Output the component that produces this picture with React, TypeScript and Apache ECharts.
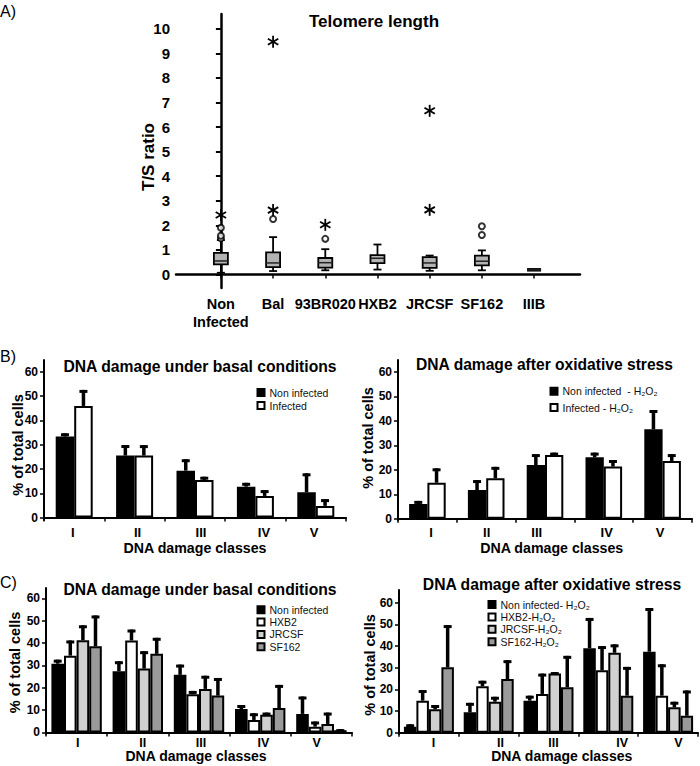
import React, { useEffect, useRef } from 'react';
import * as echarts from 'echarts';

const FONT = "'Liberation Sans', Arial, Helvetica, sans-serif";

// ---------- Panel A: telomere length (box plots) ----------
const telomereCategories = ['Non\nInfected', 'Bal', '93BR020', 'HXB2', 'JRCSF', 'SF162', 'IIIB'];
const telomereLowerWhisker = [0.07, 0.14, 0.17, 0.2, 0.15, 0.17, 0.19];
const telomereQ1 = [0.41, 0.3, 0.28, 0.46, 0.27, 0.37, 0.19];
const telomereMedian = [0.55, 0.47, 0.48, 0.66, 0.47, 0.54, 0.19];
const telomereQ3 = [0.88, 0.9, 0.67, 0.79, 0.71, 0.77, 0.19];
const telomereUpperWhisker = [1.4, 1.52, 1.03, 1.22, 0.77, 0.98, 0.19];
const telomereOutliers = [[0, 1.47], [0, 1.58], [0, 1.9], [1, 2.26], [2, 1.45], [5, 1.61], [5, 1.96]];
const telomereExtremes = [[0, 2.42], [1, 2.62], [1, 9.47], [2, 2.02], [4, 2.63], [4, 6.66]];
const telomereTicks = [0, 1, 2, 3, 4, 5, 6, 7, 8, 9, 10];
const telomereCatIdx = [0, 1, 2, 3, 4, 5, 6];

// ---------- Panels B / C: DNA damage classes ----------
const damageClasses = ['I', 'II', 'III', 'IV', 'V'];
const percentTicks = [0, 10, 20, 30, 40, 50, 60];

// B left: basal conditions
const bBasalNames = ['Non infected', 'Infected'];
const bBasalNonInfected = [33.3, 25.5, 19.3, 12.7, 10.4];
const bBasalNonInfectedErr = [1.4, 4.3, 4.7, 1.6, 7.8];
const bBasalInfected = [45.9, 25.5, 15.5, 8.9, 4.8];
const bBasalInfectedErr = [6.6, 4.3, 1.3, 2.4, 2.8];

// B right: oxidative stress
const bOxNames = ['Non infected  - H₂O₂', 'Infected - H₂O₂'];
const bOxNonInfected = [6.0, 11.7, 21.9, 25.1, 36.5];
const bOxNonInfectedErr = [1.3, 4.1, 4.5, 1.9, 7.9];
const bOxInfected = [14.7, 16.5, 26.0, 21.3, 23.6];
const bOxInfectedErr = [5.9, 4.7, 1.0, 2.7, 2.8];

// C left: basal conditions per strain
const cBasalNames = ['Non infected', 'HXB2', 'JRCSF', 'SF162'];
const cBasalNonInfected = [30.8, 27.4, 25.8, 10.5, 8.3];
const cBasalNonInfectedErr = [1.8, 4.5, 4.6, 1.8, 7.8];
const cBasalHXB2 = [34.4, 41.2, 17.1, 5.6, 2.6];
const cBasalHXB2Err = [6.8, 4.9, 1.5, 3.0, 2.3];
const cBasalJRCSF = [41.3, 28.6, 19.5, 7.9, 3.8];
const cBasalJRCSFErr = [6.7, 7.8, 5.9, 1.0, 5.1];
const cBasalSF162 = [38.6, 35.2, 16.5, 10.9, 1.0];
const cBasalSF162Err = [13.8, 7.2, 7.9, 10.4, 0.5];

// C right: oxidative stress per strain
const cOxNames = ['Non infected- H₂O₂', 'HXB2-H₂O₂', 'JRCSF-H₂O₂', 'SF162-H₂O₂'];
const cOxNonInfected = [2.8, 9.4, 14.8, 39.0, 37.4];
const cOxNonInfectedErr = [1.1, 4.4, 2.3, 14.0, 20.2];
const cOxHXB2 = [14.8, 21.5, 17.9, 28.8, 17.1];
const cOxHXB2Err = [4.9, 2.5, 9.4, 11.2, 14.5];
const cOxJRCSF = [10.8, 14.3, 27.3, 36.9, 11.7];
const cOxJRCSFErr = [2.0, 2.3, 0.7, 3.9, 2.6];
const cOxSF162 = [30.2, 24.8, 21.0, 17.1, 7.8];
const cOxSF162Err = [19.5, 8.7, 14.5, 13.3, 11.7];

const twoColors = ['#000000', '#ffffff'];
const fourColors = ['#000000', '#ffffff', '#d0d0d0', '#9a9a9a'];

// horizontal nudges (px) of the hand-placed class labels in each panel (layout only)
const labelShiftBL = [-1.5, 3, 6, 8.6, -1.8];
const labelShiftBR = [3.6, 0.5, -8.3, 2.9, -2.6];
const labelShiftCL = [1.1, 4.9, 2, 3.1, -4.7];
const labelShiftCR = [4.6, 11.8, 5, 13.9, 10.4];

function barPanel(g: number, names: string[], values: number[][], errs: number[][], colors: string[], bw: number) {
  const out: any[] = names.map((name, s) => ({
    type: 'bar',
    name,
    xAxisIndex: g,
    yAxisIndex: g,
    data: values[s],
    barWidth: bw,
    barGap: '0%',
    z: 2,
    itemStyle: { color: colors[s], borderColor: '#000', borderWidth: 2 },
  }));
  out.push({
    type: 'custom',
    xAxisIndex: g,
    yAxisIndex: g,
    z: 5,
    silent: true,
    data: values.flatMap((vals, s) => vals.map((v, c) => [c, v, v + errs[s][c], s])),
    encode: { x: 0, y: [1, 2] },
    renderItem: (_p: any, api: any) => {
      const c = api.value(0);
      const s = api.value(3);
      const base = api.coord([c, api.value(1)]);
      const top = api.coord([c, api.value(2)]);
      const x = base[0] + (s - (values.length - 1) / 2) * bw;
      return {
        type: 'group',
        children: [
          { type: 'rect', shape: { x: x - 1.75, y: top[1], width: 3.5, height: base[1] - top[1] }, style: { fill: '#000' } },
          { type: 'rect', shape: { x: x - 4, y: top[1], width: 8, height: 3 }, style: { fill: '#000' } },
        ],
      };
    },
  });
  return out;
}

function catAxis(g: number, shifts: number[], size: number, margin: number, lh: number) {
  const rich: any = {};
  shifts.forEach((d, i) => {
    rich['c' + i] = {
      fontWeight: 'bold',
      fontSize: size,
      lineHeight: lh,
      fontFamily: FONT,
      color: '#000',
      padding: d >= 0 ? [0, 0, 0, 2 * d] : [0, -2 * d, 0, 0],
    };
  });
  return {
    type: 'category',
    gridIndex: g,
    data: damageClasses,
    axisLine: { lineStyle: { color: '#000', width: 2 } },
    axisTick: { show: true, length: 4, lineStyle: { color: '#000', width: 1.5 } },
    axisLabel: {
      color: '#000',
      fontWeight: 'bold',
      fontSize: size,
      lineHeight: lh,
      fontFamily: FONT,
      margin,
      formatter: (v: string, i: number) => `{c${i}|${v}}`,
      rich,
    },
    splitLine: { show: false },
  };
}

function pctAxis(g: number, min: number, max: number) {
  return {
    type: 'value',
    gridIndex: g,
    min,
    max,
    axisLine: { show: true, lineStyle: { color: '#000', width: 2 } },
    axisTick: { show: true, length: 4, customValues: percentTicks, lineStyle: { color: '#000', width: 1.5 } },
    axisLabel: { color: '#000', fontWeight: 'bold', fontSize: 12, fontFamily: FONT, margin: 6, customValues: percentTicks },
    splitLine: { show: false },
  };
}

function legendOf(names: string[], left: number, top: number, gap: number) {
  return {
    orient: 'vertical',
    left,
    top,
    padding: 0,
    itemWidth: 7,
    itemHeight: 7,
    itemGap: gap,
    icon: 'rect',
    selectedMode: false,
    data: names,
    textStyle: { fontSize: 10.5, fontFamily: FONT, color: '#111', lineHeight: 10 },
  };
}

function txt(text: string, x: number, y: number, size: number, bold: boolean, align = 'center', rotate = 0) {
  return {
    type: 'text',
    x,
    y,
    rotation: rotate,
    style: {
      text,
      fontSize: size,
      fontWeight: bold ? 'bold' : 'normal',
      fontFamily: FONT,
      fill: '#000',
      align,
      verticalAlign: 'middle',
    },
  };
}

export default function App() {
  const ref = useRef<HTMLDivElement>(null);
  useEffect(() => {
    if (!ref.current) return;
    const chart = echarts.init(ref.current, null, { renderer: 'svg' });
    const boxData = telomereCatIdx.map((i) => [
      i,
      telomereLowerWhisker[i],
      telomereQ1[i],
      telomereMedian[i],
      telomereQ3[i],
      telomereUpperWhisker[i],
    ]);
    const option: any = {
      animation: false,
      backgroundColor: '#fff',
      grid: [
        { left: 176, top: 14, width: 404, height: 274, outerBoundsMode: 'none' },
        { left: 44, top: 360, width: 302, height: 160, outerBoundsMode: 'none' },
        { left: 398, top: 360, width: 294, height: 160, outerBoundsMode: 'none' },
        { left: 46, top: 588, width: 306, height: 146, outerBoundsMode: 'none' },
        { left: 399, top: 590, width: 299, height: 144, outerBoundsMode: 'none' },
      ],
      xAxis: [
        {
          type: 'value',
          gridIndex: 0,
          min: -0.86,
          max: 6.88,
          axisLine: { show: true, lineStyle: { color: '#000', width: 2.5 } },
          axisTick: { show: true, length: 4, customValues: telomereCatIdx, lineStyle: { color: '#000', width: 1.5 } },
          axisLabel: {
            customValues: telomereCatIdx,
            formatter: (v: number) => telomereCategories[Math.round(v)] ?? '',
            color: '#000',
            fontWeight: 'bold',
            fontSize: 14.5,
            lineHeight: 18,
            fontFamily: FONT,
            margin: 7,
          },
          splitLine: { show: false },
        },
        catAxis(1, labelShiftBL, 13, 5, 15),
        catAxis(2, labelShiftBR, 13, 5, 15),
        catAxis(3, labelShiftCL, 12.5, 3, 11),
        catAxis(4, labelShiftCR, 12.5, 3, 11),
      ],
      yAxis: [
        {
          type: 'value',
          gridIndex: 0,
          min: -0.55,
          max: 10.6,
          axisLine: { show: true, lineStyle: { color: '#000', width: 2.5 } },
          axisTick: { show: true, length: 5, customValues: telomereTicks, lineStyle: { color: '#000', width: 2 } },
          axisLabel: {
            customValues: telomereTicks,
            color: '#000',
            fontWeight: 'bold',
            fontSize: 15,
            fontFamily: FONT,
            margin: 6,
          },
          splitLine: { show: false },
        },
        pctAxis(1, -1, 64.8),
        pctAxis(2, -0.5, 64.8),
        pctAxis(3, -0.7, 64.7),
        pctAxis(4, -0.6, 65.9),
      ],
      legend: [
        legendOf(bBasalNames, 256.5, 387, 2),
        legendOf(bOxNames, 549.5, 385.7, 5.3),
        legendOf(cBasalNames, 256.5, 604.3, 1.3),
        legendOf(cOxNames, 487.5, 599, 1.4),
      ],
      series: [
        {
          type: 'custom',
          name: 'T/S ratio',
          xAxisIndex: 0,
          yAxisIndex: 0,
          data: boxData,
          encode: { x: 0, y: [1, 2, 3, 4, 5] },
          renderItem: (_p: any, api: any) => {
            const i = api.value(0);
            const lo = api.coord([i, api.value(1)]);
            const q1 = api.coord([i, api.value(2)]);
            const md = api.coord([i, api.value(3)]);
            const q3 = api.coord([i, api.value(4)]);
            const hi = api.coord([i, api.value(5)]);
            const x = lo[0];
            const hw = 7;
            const cw = 4;
            const st = { stroke: '#000', lineWidth: 1.8 };
            const flat = Math.abs(q1[1] - q3[1]) < 0.5;
            return {
              type: 'group',
              children: [
                { type: 'line', shape: { x1: x, y1: hi[1], x2: x, y2: q3[1] }, style: st },
                { type: 'line', shape: { x1: x, y1: q1[1], x2: x, y2: lo[1] }, style: st },
                { type: 'line', shape: { x1: x - cw, y1: hi[1], x2: x + cw, y2: hi[1] }, style: st },
                { type: 'line', shape: { x1: x - cw, y1: lo[1], x2: x + cw, y2: lo[1] }, style: st },
                flat
                  ? { type: 'line', shape: { x1: x - hw, y1: md[1], x2: x + hw, y2: md[1] }, style: { stroke: '#000', lineWidth: 3.5 } }
                  : {
                      type: 'rect',
                      shape: { x: x - hw, y: q3[1], width: 2 * hw, height: q1[1] - q3[1] },
                      style: { fill: '#b3b3b3', stroke: '#000', lineWidth: 1.8 },
                    },
                { type: 'line', shape: { x1: x - hw, y1: md[1], x2: x + hw, y2: md[1] }, style: { stroke: '#222', lineWidth: 1.5 } },
              ],
            };
          },
        },
        {
          type: 'scatter',
          name: 'Outliers',
          xAxisIndex: 0,
          yAxisIndex: 0,
          data: telomereOutliers,
          symbol: 'emptyCircle',
          symbolSize: 6,
          itemStyle: { color: '#000', borderColor: '#000', borderWidth: 1.5 },
        },
        {
          type: 'custom',
          name: 'Extremes',
          xAxisIndex: 0,
          yAxisIndex: 0,
          data: telomereExtremes,
          encode: { x: 0, y: 1 },
          renderItem: (_p: any, api: any) => {
            const p = api.coord([api.value(0), api.value(1)]);
            const r = 6;
            const st = { stroke: '#000', lineWidth: 1.8 };
            const arms = [90, 30, 150].map((deg) => {
              const a = (deg * Math.PI) / 180;
              const dx = r * Math.cos(a);
              const dy = r * Math.sin(a);
              return { type: 'line', shape: { x1: p[0] - dx, y1: p[1] - dy, x2: p[0] + dx, y2: p[1] + dy }, style: st };
            });
            return { type: 'group', children: arms };
          },
        },
        ...barPanel(1, bBasalNames, [bBasalNonInfected, bBasalInfected], [bBasalNonInfectedErr, bBasalInfectedErr], twoColors, 18.5),
        ...barPanel(2, bOxNames, [bOxNonInfected, bOxInfected], [bOxNonInfectedErr, bOxInfectedErr], twoColors, 18.3),
        ...barPanel(
          3,
          cBasalNames,
          [cBasalNonInfected, cBasalHXB2, cBasalJRCSF, cBasalSF162],
          [cBasalNonInfectedErr, cBasalHXB2Err, cBasalJRCSFErr, cBasalSF162Err],
          fourColors,
          12.6
        ),
        ...barPanel(
          4,
          cOxNames,
          [cOxNonInfected, cOxHXB2, cOxJRCSF, cOxSF162],
          [cOxNonInfectedErr, cOxHXB2Err, cOxJRCSFErr, cOxSF162Err],
          fourColors,
          12.5
        ),
      ],
      graphic: [
        txt('A)', 0, 11, 16, false, 'left'),
        txt('B)', 0, 356, 16, false, 'left'),
        txt('C)', 0, 582, 16, false, 'left'),
        txt('Telomere length', 374, 21, 17, true),
        txt('T/S ratio', 148, 157, 17, true, 'center', Math.PI / 2),
        txt('DNA damage under basal conditions', 200, 366, 15.7, true),
        txt('DNA damage after oxidative stress', 544.5, 364, 15.6, true),
        txt('DNA damage under basal conditions', 200, 589, 15.7, true),
        txt('DNA damage after oxidative stress', 552, 584, 15.7, true),
        txt('% of total cells', 18.3, 445, 14.5, true, 'center', Math.PI / 2),
        txt('% of total cells', 368.3, 438, 14.5, true, 'center', Math.PI / 2),
        txt('% of total cells', 15, 662.5, 14.5, true, 'center', Math.PI / 2),
        txt('% of total cells', 370, 665, 14.5, true, 'center', Math.PI / 2),
        txt('DNA damage classes', 195, 547.7, 14.2, true),
        txt('DNA damage classes', 551.7, 547.7, 14.2, true),
        txt('DNA damage classes', 196, 756, 14, true),
        txt('DNA damage classes', 561.7, 756, 14, true),
      ],
    };
    chart.setOption(option);
    return () => chart.dispose();
  }, []);
  return (
    <div
      ref={ref}
      style={{ position: 'fixed', left: 0, top: 0, width: 700, height: 766, background: '#fff' }}
    />
  );
}
